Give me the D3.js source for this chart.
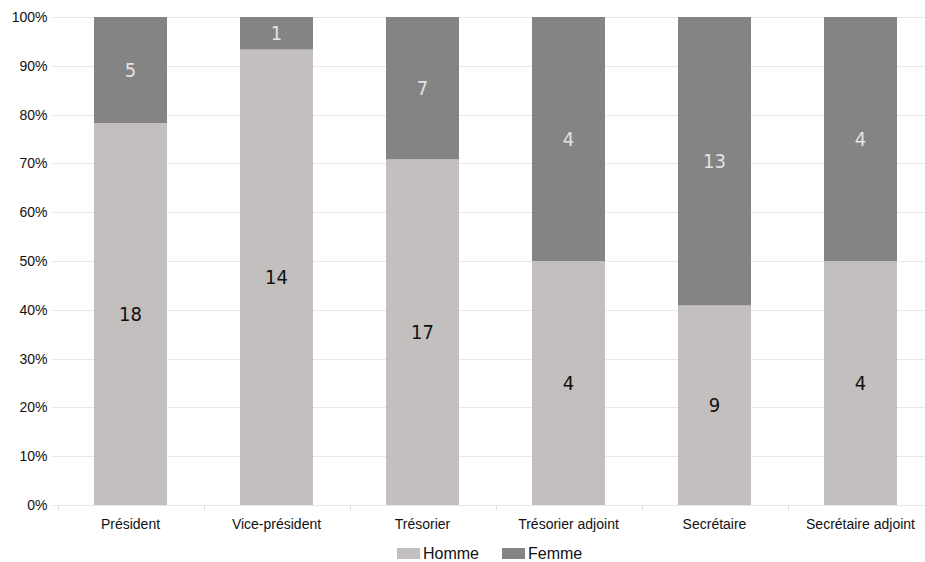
<!DOCTYPE html>
<html>
<head>
<meta charset="utf-8">
<script src="https://cdn.jsdelivr.net/npm/d3@7"></script>
<style>
  body { margin: 0; background: #fff; }
  svg { display: block; }
</style>
</head>
<body>
<div id="chart"></div>
<script>
// Data
const categories = ["Président", "Vice-président", "Trésorier", "Trésorier adjoint", "Secrétaire", "Secrétaire adjoint"];
const series = ["Homme", "Femme"];
const homme = [18, 14, 17, 4, 9, 4];
const femme = [5, 1, 7, 4, 13, 4];
const yTicks = [0, 0.1, 0.2, 0.3, 0.4, 0.5, 0.6, 0.7, 0.8, 0.9, 1];

const W = 925, H = 562;
const plotLeft = 57.5, plotTop = 17, plotBottom = 505;
const bandW = 146;

const svg = d3.select("#chart").append("svg")
  .attr("width", W).attr("height", H);

const color = d3.scaleOrdinal().domain(series).range(["#c3bfbe", "#848484"]);
const labelColor = {Homme: "#111", Femme: "#e6e2e1"};

// plot runs past the right edge like the original
const x = d3.scaleBand()
  .domain(categories)
  .range([plotLeft, plotLeft + bandW * categories.length])
  .paddingInner(0.5).paddingOuter(0.25);
const y = d3.scaleLinear().domain([0, 1]).range([plotBottom, plotTop]);

// Gridlines
svg.append("g")
  .selectAll("line")
  .data(yTicks)
  .enter().append("line")
    .attr("x1", plotLeft - 5).attr("x2", W)
    .attr("y1", d => Math.round(y(d)) + 0.5).attr("y2", d => Math.round(y(d)) + 0.5)
    .style("stroke", "#e8e8e8").style("stroke-width", 1);

// Y labels
svg.append("g")
  .selectAll("text")
  .data(yTicks)
  .enter().append("text")
    .attr("x", plotLeft - 10)
    .attr("y", d => y(d) + 5)
    .attr("text-anchor", "end")
    .style("font-family", "Liberation Sans, Arial, sans-serif")
    .style("font-size", "14px")
    .style("fill", "#111")
    .text(d3.format(".0%"));

// X ticks between categories
const bounds = d3.range(categories.length + 1).map(i => plotLeft + i * bandW);
svg.append("g")
  .selectAll("line")
  .data(bounds)
  .enter().append("line")
    .attr("x1", d => Math.round(d) + 0.5).attr("x2", d => Math.round(d) + 0.5)
    .attr("y1", plotBottom).attr("y2", plotBottom + 6)
    .style("stroke", "#e0e0e0");

// Stack
const rows = categories.map((c, i) => {
  const t = homme[i] + femme[i];
  return {cat: c, Homme: homme[i] / t, Femme: femme[i] / t, nHomme: homme[i], nFemme: femme[i]};
});
const stacked = d3.stack().keys(series)(rows);

const layers = svg.selectAll(".layer")
  .data(stacked)
  .enter().append("g")
    .attr("class", "layer")
    .style("fill", d => color(d.key));

layers.selectAll("rect")
  .data(d => d)
  .enter().append("rect")
    .attr("x", d => x(d.data.cat))
    .attr("width", x.bandwidth())
    .attr("y", d => y(d[1]))
    .attr("height", d => y(d[0]) - y(d[1]));

// Value labels
stacked.forEach(layer => {
  svg.append("g")
    .selectAll("text")
    .data(layer)
    .enter().append("text")
      .attr("x", d => x(d.data.cat) + x.bandwidth() / 2)
      .attr("y", d => (y(d[0]) + y(d[1])) / 2 + 7)
      .attr("text-anchor", "middle")
      .style("font-family", "DejaVu Sans Condensed, DejaVu Sans, sans-serif")
      .style("font-stretch", "condensed")
      .style("font-size", "20px")
      .style("fill", labelColor[layer.key])
      .text(d => d.data["n" + layer.key]);
});

// X labels
svg.append("g")
  .selectAll("text")
  .data(categories)
  .enter().append("text")
    .attr("x", d => x(d) + x.bandwidth() / 2)
    .attr("y", 529)
    .attr("text-anchor", "middle")
    .style("font-family", "Liberation Sans, Arial, sans-serif")
    .style("font-size", "14px")
    .style("fill", "#111")
    .text(d => d);

// Legend
const legend = svg.append("g");
const legendX = [397, 502];
series.forEach((s, i) => {
  legend.append("rect")
    .attr("x", legendX[i]).attr("y", 548)
    .attr("width", 23).attr("height", 11)
    .style("fill", color(s));
  legend.append("text")
    .attr("x", legendX[i] + 26).attr("y", 559)
    .style("font-family", "Liberation Sans, Arial, sans-serif")
    .style("font-size", "16px")
    .style("fill", "#111")
    .text(s);
});
</script>
</body>
</html>
